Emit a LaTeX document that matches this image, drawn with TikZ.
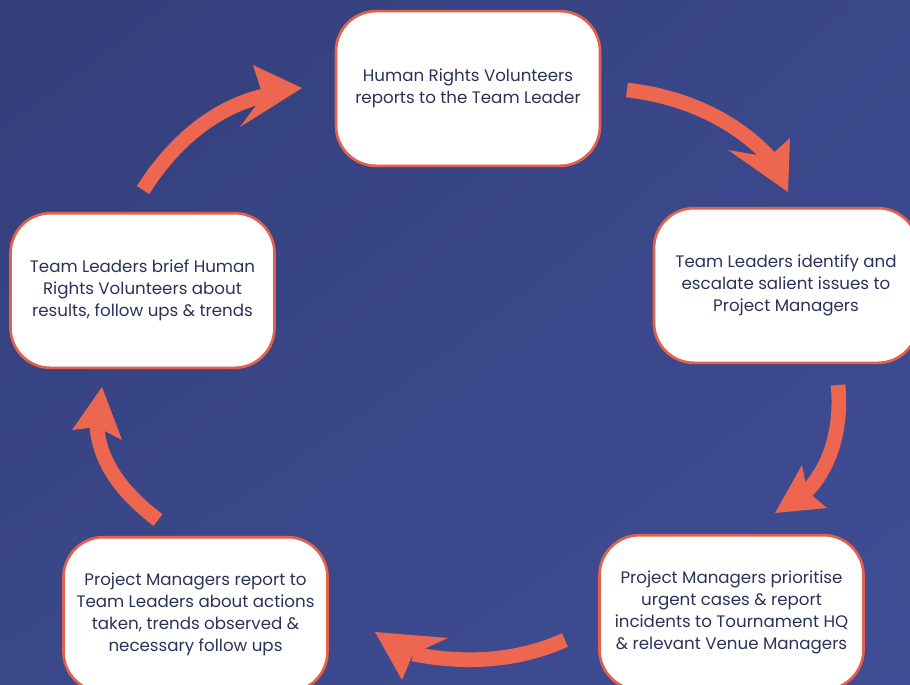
\documentclass[tikz,border=0pt]{standalone}
\usepackage{fontspec}
\setmainfont{Poppins}
\usepackage{xcolor}
\usepackage{tikz}
\usetikzlibrary{shadings}

\definecolor{bgdark}{HTML}{333F7A}
\definecolor{bgmid}{HTML}{3A4789}
\definecolor{bglight}{HTML}{3F4D96}
\definecolor{coral}{HTML}{EC6650}
\definecolor{boxedge}{HTML}{E5604A}
\definecolor{inktext}{HTML}{2B3259}

\tikzset{
  stagebox/.style={draw=boxedge, line width=2pt, fill=white, rounded corners=30pt,
    minimum width=198pt, minimum height=116pt, align=center, text=inktext,
    font=\fontsize{12.5}{16.5}\selectfont},
  arrowbody/.style={draw=coral, line width=11pt, line cap=butt},
  arrowhead/.style={fill=coral}
}

\begin{document}
\begin{tikzpicture}[x=0.75pt,y=-0.75pt]
  % Frame and background
  \useasboundingbox (0,0) rectangle (910,685);
  \clip (0,0) rectangle (910,685);
  \shade[upper left=bgdark, upper right=bgmid, lower left=bgmid, lower right=bglight]
    (0,0) rectangle (910,685);

  % The five stages of the cycle
  \node[stagebox] (volunteers) at (468,88.5)
    {Human Rights Volunteers\\reports to the Team Leader};
  \node[stagebox] (escalate) at (786,285.5)
    {Team Leaders identify and\\escalate salient issues to\\Project Managers};
  \node[stagebox] (prioritise) at (731.5,612.5)
    {Project Managers prioritise\\urgent cases \& report\\incidents to Tournament HQ\\\& relevant Venue Managers};
  \node[stagebox] (feedback) at (195.5,614.5)
    {Project Managers report to\\Team Leaders about actions\\taken, trends observed \&\\necessary follow ups};
  \node[stagebox] (brief) at (142.5,290.5)
    {Team Leaders brief Human\\Rights Volunteers about\\results, follow ups \& trends};

  % Arrow ends: tail, notch, tip and the two barbs
  \coordinate (t1) at (143,190); \coordinate (n1) at (263,96);
  \coordinate (p1) at (302,88);  \coordinate (b1a) at (253,65); \coordinate (b1b) at (240,127);

  \coordinate (t2) at (627,90);  \coordinate (n2) at (769,157);
  \coordinate (p2) at (788,192); \coordinate (b2a) at (790,138); \coordinate (b2b) at (728,150);

  \coordinate (t3) at (838,385); \coordinate (n3) at (807,491);
  \coordinate (p3) at (775,513); \coordinate (b3a) at (802,465); \coordinate (b3b) at (827,508);

  \coordinate (t4) at (565,640); \coordinate (n4) at (413,654);
  \coordinate (p4) at (375,632); \coordinate (b4a) at (448,638); \coordinate (b4b) at (402,680);

  \coordinate (t5) at (158,520); \coordinate (n5) at (97,427);
  \coordinate (p5) at (102,387); \coordinate (b5a) at (72,430);  \coordinate (b5b) at (122,440);

  % Brush arrows between the stages
  \draw[arrowbody] (t1) .. controls (175,140) and (215,108) .. (n1);
  \fill[arrowhead] (p1) -- (b1a) -- (n1) -- (b1b) -- cycle;

  \draw[arrowbody] (t2) .. controls (690,97) and (740,125) .. (n2);
  \fill[arrowhead] (p2) -- (b2a) -- (n2) -- (b2b) -- cycle;

  \draw[arrowbody] (t3) .. controls (842,425) and (832,465) .. (n3);
  \fill[arrowhead] (p3) -- (b3a) -- (n3) -- (b3b) -- cycle;

  \draw[arrowbody] (t4) .. controls (520,660) and (470,665) .. (n4);
  \fill[arrowhead] (p4) -- (b4a) -- (n4) -- (b4b) -- cycle;

  \draw[arrowbody] (t5) .. controls (125,495) and (100,465) .. (n5);
  \fill[arrowhead] (p5) -- (b5a) -- (n5) -- (b5b) -- cycle;
\end{tikzpicture}
\end{document}
